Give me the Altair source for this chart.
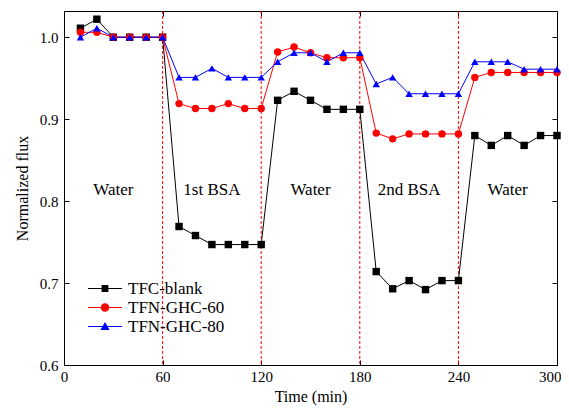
import altair as alt
import pandas as pd

# ---- data ----
time = [10, 20, 30, 40, 50, 60, 70, 80, 90, 100, 110, 120, 130, 140, 150,
        160, 170, 180, 190, 200, 210, 220, 230, 240, 250, 260, 270, 280, 290, 300]
tfc_blank = [1.011, 1.022, 1.0, 1.0, 1.0, 1.0, 0.769, 0.758, 0.747, 0.747, 0.747, 0.747,
             0.923, 0.934, 0.923, 0.912, 0.912, 0.912, 0.714, 0.693, 0.703, 0.692, 0.703, 0.703,
             0.880, 0.868, 0.880, 0.868, 0.880, 0.880]
tfn_ghc_60 = [1.006, 1.006, 1.0, 1.0, 1.0, 1.0, 0.919, 0.913, 0.913, 0.919, 0.913, 0.913,
              0.982, 0.988, 0.981, 0.975, 0.975, 0.975, 0.883, 0.876, 0.882, 0.882, 0.882, 0.882,
              0.951, 0.957, 0.957, 0.957, 0.957, 0.957]
tfn_ghc_80 = [1.0, 1.011, 1.0, 1.0, 1.0, 1.0, 0.951, 0.951, 0.962, 0.951, 0.951, 0.951,
              0.970, 0.981, 0.981, 0.970, 0.981, 0.981, 0.943, 0.951, 0.931, 0.931, 0.931, 0.931,
              0.970, 0.970, 0.970, 0.961, 0.961, 0.961]
series_names = ["TFC-blank", "TFN-GHC-60", "TFN-GHC-80"]
series_colors = ["#000000", "#ff0000", "#0000ff"]
series_shapes = ["square", "circle", "triangle-up"]

phase_names = ["Water", "1st BSA", "Water", "2nd BSA", "Water"]
phase_edges = [0, 60, 120, 180, 240, 300]
x_ticks = [0, 60, 120, 180, 240, 300]
y_ticks = [0.6, 0.7, 0.8, 0.9, 1.0]

# ---- tables ----
rows = []
for name, vals in zip(series_names, [tfc_blank, tfn_ghc_60, tfn_ghc_80]):
    for t, v in zip(time, vals):
        rows.append({"Time": t, "Flux": v, "Series": name})
df = pd.DataFrame(rows)

bounds = pd.DataFrame({"Time": phase_edges[1:-1]})
phases = pd.DataFrame({
    "Phase": phase_names,
    "Mid": [(a + b) / 2 for a, b in zip(phase_edges[:-1], phase_edges[1:])],
})

FONT = "Liberation Serif"
xscale = alt.Scale(domain=[0, 300], nice=False)
yscale = alt.Scale(domain=[0.6, 1.032], nice=False)
cscale = alt.Scale(domain=series_names, range=series_colors)
sscale = alt.Scale(domain=series_names, range=series_shapes)

line_bar = "M-1,-0.03H1V0.03H-1Z "
legend_paths = [
    line_bar + "M-0.2,-0.2H0.2V0.2H-0.2Z",
    line_bar + "M0.25,0A0.25,0.25 0 1,1 -0.25,0A0.25,0.25 0 1,1 0.25,0Z",
    line_bar + "M0,-0.27L0.27,0.2H-0.27Z",
]

last_tick = x_ticks[-1]
main_x_axis = alt.Axis(
    orient="bottom", values=x_ticks, domain=False, offset=-5,
    tickSize=5, labelPadding=4, labelFlush=False, grid=False,
    labelAlign={"condition": {"test": f"datum.value == {last_tick}", "value": "right"},
                "value": "center"},
    labelOffset={"condition": {"test": f"datum.value == {last_tick}", "value": 4},
                 "value": 0},
    title="Time (min)", titlePadding=4,
)
main_y_axis = alt.Axis(orient="left", values=y_ticks, format=".1f", domain=False,
                       offset=-5, tickSize=5, labelPadding=6, grid=False,
                       title="Normalized flux", titlePadding=9)

rules = alt.Chart(bounds).mark_rule(color="#ff0000", strokeDash=[3, 2], strokeWidth=1).encode(
    x=alt.X("Time:Q", scale=xscale, axis=None)
)

lines = alt.Chart(df).mark_line(strokeWidth=1).encode(
    x=alt.X("Time:Q", scale=xscale, axis=main_x_axis),
    y=alt.Y("Flux:Q", scale=yscale, axis=main_y_axis),
    color=alt.Color("Series:N", scale=cscale, legend=None),
    detail="Series:N",
)

points = alt.Chart(df).mark_point(filled=True, opacity=1, size=55).encode(
    x=alt.X("Time:Q", scale=xscale, axis=None),
    y=alt.Y("Flux:Q", scale=yscale, axis=None),
    color=alt.Color("Series:N", scale=cscale, legend=None),
    shape=alt.Shape("Series:N", scale=sscale, legend=None),
)

texts = alt.Chart(phases).mark_text(font=FONT, fontSize=17, color="black").encode(
    x=alt.X("Mid:Q", scale=xscale, axis=None),
    y=alt.datum(0.813, scale=yscale, axis=None),
    text="Phase:N",
)

def make_legend():
    return alt.Legend(orient="none", legendX=24, legendY=268,
                      symbolSize=1156, symbolStrokeWidth=0,
                      clipHeight=19, rowPadding=0, labelOffset=6, padding=0,
                      labelFont=FONT, labelFontSize=17,
                      labelColor="black", symbolOpacity=1)

legend_layer = alt.Chart(df).transform_filter("false").mark_point(
    filled=True, size=1156
).encode(
    x=alt.X("Time:Q", scale=xscale,
            axis=alt.Axis(orient="top", values=x_ticks, labels=False, domain=False,
                          offset=-5, tickSize=5, grid=False, title=None)),
    y=alt.Y("Flux:Q", scale=yscale,
            axis=alt.Axis(orient="right", values=y_ticks, labels=False, domain=False,
                          offset=-5, tickSize=5, grid=False, title=None)),
    color=alt.Color("Series:N", scale=cscale, title=None, legend=make_legend()),
    shape=alt.Shape("Series:N", scale=alt.Scale(domain=series_names, range=legend_paths),
                    title=None, legend=make_legend()),
)

chart = alt.layer(rules, lines, points, texts, legend_layer).resolve_axis(
    x="independent", y="independent"
).resolve_scale(
    color="independent", shape="independent"
).properties(
    width=493, height=354,
    background="white",
    autosize=alt.AutoSizeParams(type="none"),
    padding={"left": 56, "top": 3, "right": 4, "bottom": 41},
).configure_view(
    stroke="black", strokeWidth=1
).configure_axis(
    labelFont=FONT, labelFontSize=15, labelColor="black",
    titleFont=FONT, titleFontSize=16, titleFontWeight="normal", titleColor="black",
    tickColor="black", tickWidth=1,
)

chart.save("out.html", embed_options={"renderer": "svg", "actions": False})
